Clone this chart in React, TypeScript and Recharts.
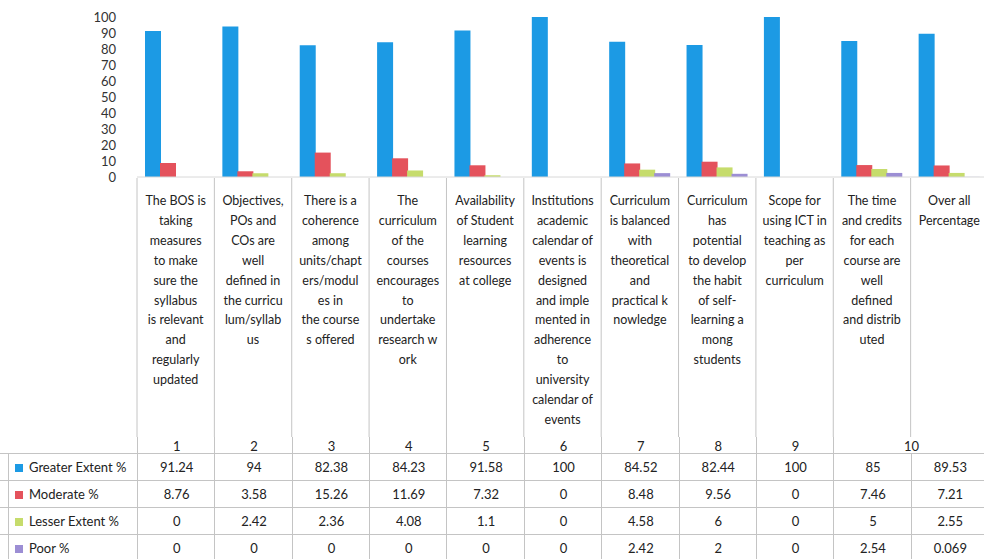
import { BarChart, Bar, XAxis, YAxis } from 'recharts';

// table header numbers (last two columns share "10")
const categories = ['1', '2', '3', '4', '5', '6', '7', '8', '9', '10', '10b'];

const greaterExtent = [91.24, 94, 82.38, 84.23, 91.58, 100, 84.52, 82.44, 100, 85, 89.53];
const moderate = [8.76, 3.58, 15.26, 11.69, 7.32, 0, 8.48, 9.56, 0, 7.46, 7.21];
const lesserExtent = [0, 2.42, 2.36, 4.08, 1.1, 0, 4.58, 6, 0, 5, 2.55];
const poor = [0, 0, 0, 0, 0, 0, 2.42, 2, 0, 2.54, 0.069];

const poorLabels = ['0', '0', '0', '0', '0', '0', '2.42', '2', '0', '2.54', '0.069'];

const yTicks = [0, 10, 20, 30, 40, 50, 60, 70, 80, 90, 100];

const labelLines = [
  ['The BOS is', 'taking', 'measures', 'to make', 'sure the', 'syllabus', 'is relevant', 'and', 'regularly', 'updated'],
  ['Objectives,', 'POs and', 'COs are', 'well', 'defined in', 'the curricu', 'lum/syllab', 'us'],
  ['There is a', 'coherence', 'among', 'units/chapt', 'ers/modul', 'es in', 'the course', 's offered'],
  ['The', 'curriculum', 'of the', 'courses', 'encourages', 'to', 'undertake', 'research w', 'ork'],
  ['Availability', 'of Student', 'learning', 'resources', 'at college'],
  ['Institutions', 'academic', 'calendar of', 'events is', 'designed', 'and imple', 'mented in', 'adherence', 'to', 'university', 'calendar of', 'events'],
  ['Curriculum', 'is balanced', 'with', 'theoretical', 'and', 'practical k', 'nowledge'],
  ['Curriculum', 'has', 'potential', 'to develop', 'the habit', 'of self-', 'learning a', 'mong', 'students'],
  ['Scope for', 'using ICT in', 'teaching as', 'per', 'curriculum'],
  ['The time', 'and credits', 'for each', 'course are', 'well', 'defined', 'and distrib', 'uted'],
  ['Over all', 'Percentage'],
];

const seriesNames = ['Greater Extent %', 'Moderate %', 'Lesser Extent %', 'Poor %'];
const seriesColors = ['#1c9ae4', '#e4525c', '#c6dc6c', '#9c8ed4'];

const data = categories.map((c, i) => ({
  key: c,
  greater: greaterExtent[i],
  moderate: moderate[i],
  lesser: lesserExtent[i],
  poor: poor[i],
}));

const tableRows = [
  greaterExtent.map(String),
  moderate.map(String),
  lesserExtent.map(String),
  poorLabels,
];

const FONT = 'Lato, "Open Sans", sans-serif';
const PLOT_LEFT = 137;
const CHART_W = 988;
const COL = (CHART_W - PLOT_LEFT) / categories.length;
const LINE = '#c4c4c4';

const CategoryTick = ({ x, y, payload }: any) => {
  const lines = labelLines[payload.index] || [];
  const top = y - 7;
  return (
    <g>
      <line x1={x - COL / 2} x2={x - COL / 2} y1={top} y2={top + 260} stroke={LINE} />
      <text x={x} y={top + 27} textAnchor="middle" fontSize={12.5} fill="#222" fontFamily={FONT}>
        {lines.map((l: string, i: number) => (
          <tspan key={i} x={x} dy={i === 0 ? 0 : 19.9}>
            {l}
          </tspan>
        ))}
      </text>
    </g>
  );
};

export default function App() {
  const rowH = [26, 26, 26, 26];
  return (
    <div
      style={{
        position: 'absolute',
        left: 0,
        top: 0,
        width: 984,
        height: 559,
        overflow: 'hidden',
        background: '#fff',
        fontFamily: FONT,
      }}
    >
      <BarChart
        width={CHART_W}
        height={437}
        data={data}
        margin={{ top: 17, right: 0, left: 0, bottom: 0 }}
        barSize={16}
        barGap={-1}
      >
        <XAxis
          dataKey="key"
          height={260}
          interval={0}
          tickLine={false}
          axisLine={{ stroke: '#d8d8d8' }}
          tick={<CategoryTick />}
        />
        <YAxis
          width={PLOT_LEFT}
          domain={[0, 100]}
          ticks={yTicks}
          interval={0}
          tickLine={false}
          axisLine={false}
          tickSize={6}
          tickMargin={15}
          tick={{ fontSize: 13, fill: '#333', fontFamily: FONT }}
        />
        <Bar dataKey="greater" fill={seriesColors[0]} isAnimationActive={false} />
        <Bar dataKey="moderate" fill={seriesColors[1]} isAnimationActive={false} />
        <Bar dataKey="lesser" fill={seriesColors[2]} isAnimationActive={false} />
        <Bar dataKey="poor" fill={seriesColors[3]} isAnimationActive={false} />
      </BarChart>

      {/* data table under the chart */}
      <div style={{ position: 'absolute', left: 0, top: 437, width: CHART_W, fontSize: 13, color: '#222' }}>
        <div style={{ position: 'relative', height: 16 }}>
          {categories.slice(0, 9).map((c, i) => (
            <div
              key={c}
              style={{
                position: 'absolute',
                left: PLOT_LEFT + i * COL,
                width: COL,
                height: 16,
                textAlign: 'center',
                lineHeight: '18px',
                borderLeft: `1px solid ${LINE}`,
              }}
            >
              {c}
            </div>
          ))}
          <div
            style={{
              position: 'absolute',
              left: PLOT_LEFT + 9 * COL,
              width: COL * 2,
              height: 16,
              textAlign: 'center',
              lineHeight: '18px',
              borderLeft: `1px solid ${LINE}`,
            }}
          >
            10
          </div>
        </div>
        {tableRows.map((row, r) => (
          <div key={r} style={{ position: 'relative', height: rowH[r], borderTop: `1px solid ${LINE}` }}>
            <div
              style={{
                position: 'absolute',
                left: 8,
                width: PLOT_LEFT - 8,
                height: rowH[r],
                lineHeight: `${rowH[r]}px`,
                borderLeft: `1px solid ${LINE}`,
                whiteSpace: 'nowrap',
              }}
            >
              <span
                style={{
                  display: 'inline-block',
                  width: 8,
                  height: 8,
                  background: seriesColors[r],
                  margin: '0 6px 0 6px',
                }}
              />
              {seriesNames[r]}
            </div>
            {row.map((v, i) => (
              <div
                key={i}
                style={{
                  position: 'absolute',
                  left: PLOT_LEFT + i * COL,
                  width: COL,
                  height: rowH[r],
                  lineHeight: `${rowH[r]}px`,
                  textAlign: 'center',
                  borderLeft: `1px solid ${LINE}`,
                }}
              >
                {v}
              </div>
            ))}
          </div>
        ))}
      </div>
    </div>
  );
}
